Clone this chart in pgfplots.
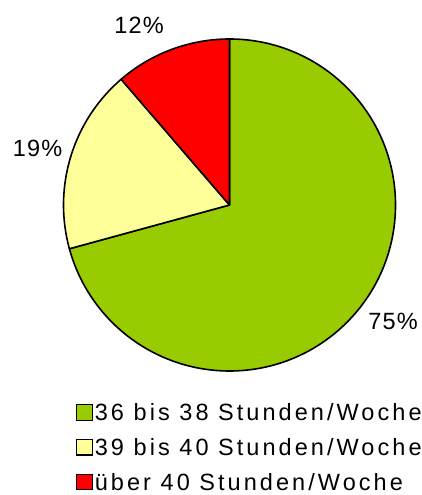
\documentclass[border=0pt]{standalone}
\usepackage{pgfplots}
\pgfplotsset{compat=1.18}
\usepackage{pgfplotstable}
\usepackage{fontspec}
\setmainfont{Liberation Sans}
\newfontfamily\legfont{Liberation Sans}[LetterSpace=13]
\newfontfamily\pctfont{Liberation Sans}[LetterSpace=5]
\definecolor{cgreen}{RGB}{153,204,0}
\definecolor{cyellow}{RGB}{255,255,153}
\definecolor{cred}{RGB}{255,0,0}

\pgfplotstableread{
label value
A 75
B 19
C 12
}\piedata

\begin{document}
\begin{tikzpicture}
\pgfplotstablegetelem{0}{value}\of\piedata \let\vA\pgfplotsretval
\pgfplotstablegetelem{1}{value}\of\piedata \let\vB\pgfplotsretval
\pgfplotstablegetelem{2}{value}\of\piedata \let\vC\pgfplotsretval
\pgfmathsetmacro\total{\vA+\vB+\vC}
\pgfmathsetmacro\aA{90-360*(\vA/\total)}
\pgfmathsetmacro\aB{\aA-360*(\vB/\total)}
\pgfmathsetmacro\aC{\aB-360*(\vC/\total)}
\begin{axis}[
  x=1pt, y=1pt,
  xmin=0, xmax=421, ymin=0, ymax=495,
  hide axis, clip=false,
  legend image code/.code={\filldraw[#1] (0pt,-7.75pt) rectangle (15.5pt,7.75pt);},
  legend cell align=left,
  legend style={at={(axis cs:76,91)}, anchor=north west, draw=none, fill=none,
    inner sep=0pt, row sep=18pt, column sep=2pt,
    nodes={inner sep=0pt, text height=16.5pt, text depth=0pt,
      font=\legfont\fontsize{23.5}{27}\selectfont}},
]
\path (axis cs:0,0) rectangle (axis cs:421,495);
\filldraw[fill=cgreen, draw=black, line width=1.6pt, line join=round]
  (axis cs:229.5,290) -- ++(90:166pt) arc[start angle=90, end angle=\aA, radius=166pt] -- cycle;
\filldraw[fill=cyellow, draw=black, line width=1.6pt, line join=round]
  (axis cs:229.5,290) -- ++(\aA:166pt) arc[start angle=\aA, end angle=\aB, radius=166pt] -- cycle;
\filldraw[fill=cred, draw=black, line width=1.6pt, line join=round]
  (axis cs:229.5,290) -- ++(\aB:166pt) arc[start angle=\aB, end angle=\aC, radius=166pt] -- cycle;
\node[anchor=base, inner sep=0pt, font=\pctfont\fontsize{23.5}{27}\selectfont] at (axis cs:393,165) {\vA\%};
\node[anchor=base, inner sep=0pt, font=\pctfont\fontsize{23.5}{27}\selectfont] at (axis cs:37.5,338) {\vB\%};
\node[anchor=base, inner sep=0pt, font=\pctfont\fontsize{23.5}{27}\selectfont] at (axis cs:139,461.7) {\vC\%};
\addlegendimage{fill=cgreen, draw=black, line width=1.2pt}
\addlegendentry{36 bis 38 Stunden/Woche}
\addlegendimage{fill=cyellow, draw=black, line width=1.2pt}
\addlegendentry{39 bis 40 Stunden/Woche}
\addlegendimage{fill=cred, draw=black, line width=1.2pt}
\addlegendentry{über 40 Stunden/Woche}
\end{axis}
\end{tikzpicture}
\end{document}
